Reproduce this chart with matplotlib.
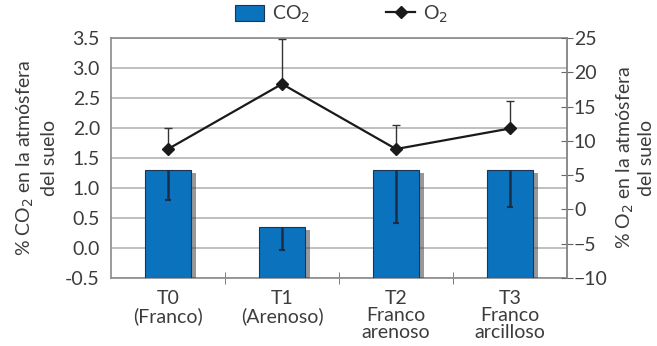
import numpy as np
import matplotlib.pyplot as plt
import matplotlib.patheffects as pe
from matplotlib.lines import Line2D
from matplotlib.patches import Patch

plt.rcParams['font.family'] = ['Lato', 'DejaVu Sans']

# Treatments and measured gas percentages
labels = ['T0\n(Franco)', 'T1\n(Arenoso)', 'T2\nFranco\narenoso', 'T3\nFranco\narcilloso']
co2 = [1.3, 0.35, 1.3, 1.3]
co2_err = [0.5, 0.38, 0.88, 0.61]
o2 = [8.8, 18.3, 8.8, 11.8]
o2_err = [3.0, 6.5, 3.5, 4.0]

text_col = '#3c3c3c'
grid_col = '#b4b4b4'
bar_col = '#0b72bd'
fs = 14

fig = plt.figure(figsize=(6.57, 3.46), dpi=100)
ax = fig.add_axes([0.169, 0.197, 0.694, 0.693])
x = np.arange(len(labels))

# bars start at the bottom of the axis (-0.5)
base = -0.5
bars = ax.bar(x, np.array(co2) - base, bottom=base, width=0.41, color=bar_col,
              edgecolor='#1d3550', linewidth=0.8, zorder=3)
for b in bars:
    b.set_path_effects([pe.SimplePatchShadow(offset=(3, -2), shadow_rgbFace='#444444', alpha=0.55),
                        pe.Normal()])
# downward-only error bars on the CO2 columns
ax.vlines(x, np.array(co2) - np.array(co2_err), co2, color='#1b2d45', linewidth=1.8, zorder=4)
ax.plot(x, np.array(co2) - np.array(co2_err), linestyle='none', marker='_',
        markersize=5, markeredgewidth=1.5, color='#1b2d45', zorder=4)

ax.set_xlim(-0.5, 3.5)
ax.set_ylim(-0.5, 3.5)
ticks = np.arange(-0.5, 3.51, 0.5)
ax.set_yticks(ticks)
ax.set_yticklabels(['%.1f' % v for v in ticks])
ax.yaxis.grid(True, color=grid_col, linewidth=1.2, zorder=0)
ax.set_axisbelow(True)
ax.set_xticks(x)
ax.set_xticklabels(labels, linespacing=1.0)
ax.set_xticks([0.5, 1.5, 2.5], minor=True)
ax.tick_params(axis='x', which='major', length=0, labelsize=fs, colors=text_col, pad=9)
ax.tick_params(axis='x', which='minor', length=8, direction='inout', color='#666666')
ax.tick_params(axis='y', length=0, labelsize=fs, colors=text_col, pad=8)
for s in ax.spines.values():
    s.set_color('#8a8a8a')
    s.set_linewidth(1.2)
ax.set_ylabel('% CO$_2$ en la atmósfera\ndel suelo', fontsize=fs, color=text_col,
              linespacing=1.35, labelpad=5)

ax2 = ax.twinx()
ax2.errorbar(x, o2, yerr=[[0] * len(o2), o2_err], fmt='none', ecolor='#333333',
             elinewidth=1.0, capsize=3, capthick=1.0, zorder=5)
ax2.plot(x, o2, color='#1a1a1a', linewidth=1.6, marker='D', markersize=6, zorder=6)
ax2.set_ylim(-10, 25)
ax2.set_yticks(np.arange(-10, 26, 5))
ax2.tick_params(axis='y', length=8, direction='inout', color='#666666', labelsize=fs,
                labelcolor=text_col, pad=1)
for s in ax2.spines.values():
    s.set_visible(False)
ax2.spines['right'].set_visible(True)
ax2.spines['right'].set_color('#8a8a8a')
ax2.spines['right'].set_linewidth(1.2)
ax2.set_ylabel('% O$_2$ en la atmósfera\ndel suelo', fontsize=fs, color=text_col,
               rotation=90, linespacing=1.15, labelpad=5)

handles = [Patch(facecolor=bar_col, edgecolor='#1d3550', linewidth=0.8),
           Line2D([0], [0], color='#1a1a1a', linewidth=1.6, marker='D', markersize=6)]
fig.legend(handles, ['CO$_2$', 'O$_2$'], loc='upper center', bbox_to_anchor=(0.52, 1.04),
           ncol=2, frameon=False, fontsize=fs, handlelength=1.5, handleheight=0.9,
           handletextpad=0.4, columnspacing=3.9, labelcolor=text_col)

fig.savefig('out.png', dpi=100)
